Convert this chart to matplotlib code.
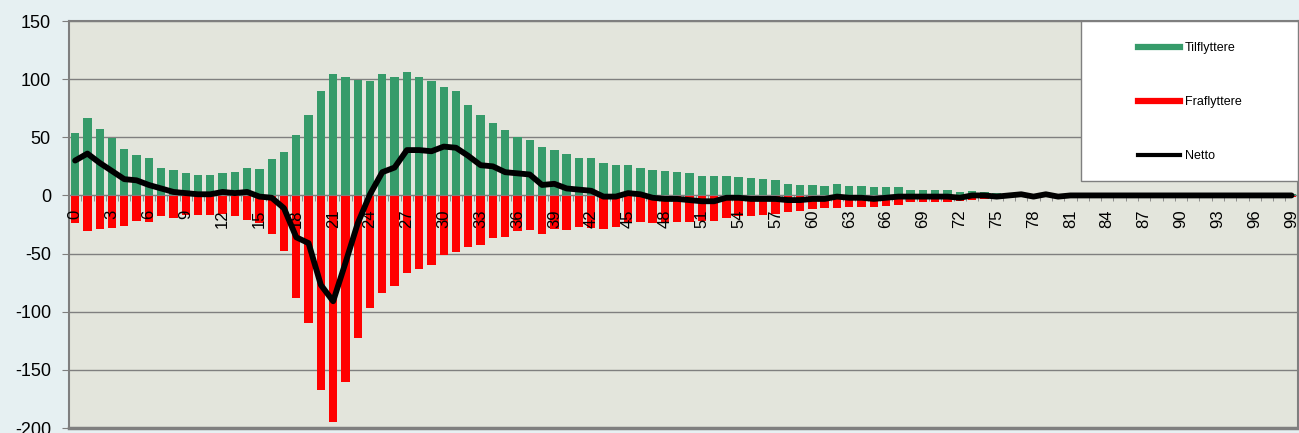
import matplotlib.pyplot as plt
import matplotlib.patches as mpatches
from matplotlib.lines import Line2D
import numpy as np

plt.rcParams['font.family'] = ['Liberation Sans', 'DejaVu Sans']
plt.rcParams['axes.unicode_minus'] = False

# alder 0-99
alder = list(range(100))

tilflyttere = [54, 67, 57, 49, 40, 35, 32, 24, 22, 19,
               18, 18, 19, 20, 24, 23, 31, 37, 52, 69,
               90, 104, 102, 99, 98, 104, 102, 106, 102, 98,
               93, 90, 78, 69, 62, 56, 50, 48, 42, 39,
               36, 32, 32, 28, 26, 26, 24, 22, 21, 20,
               19, 17, 17, 17, 16, 15, 14, 13, 10, 9,
               9, 8, 10, 8, 8, 7, 7, 7, 5, 5,
               5, 5, 3, 4, 3, 2, 2, 2, 1, 2,
               1, 1, 1, 1, 1, 1, 1, 1, 1, 1,
               1, 1, 1, 1, 1, 1, 1, 1, 1, 1]

fraflyttere = [-24, -31, -29, -28, -26, -22, -23, -18, -19, -17,
               -17, -17, -16, -18, -21, -24, -33, -48, -88, -110,
               -167, -195, -160, -123, -97, -84, -78, -67, -63, -60,
               -51, -49, -44, -43, -37, -36, -31, -30, -33, -29,
               -30, -27, -28, -29, -27, -24, -23, -24, -24, -23,
               -23, -22, -22, -19, -18, -18, -17, -16, -14, -13,
               -12, -11, -11, -10, -10, -10, -9, -8, -6, -6,
               -6, -6, -5, -4, -3, -3, -2, -1, -2, -1,
               -2, -1, -1, -1, -1, -1, -1, -1, -1, -1,
               -1, -1, -1, -1, -1, -1, -1, -1, -1, -1]

netto = [t + f for t, f in zip(tilflyttere, fraflyttere)]

y_ticks = [-200, -150, -100, -50, 0, 50, 100, 150]

green = '#369b6a'
red = '#ff0000'
grid_col = '#7f7f7f'

fig = plt.figure(figsize=(12.99, 4.33), dpi=100, facecolor='#e6f0f2')
ax = fig.add_axes([0.0531, 0.0115, 0.9459, 0.94])
ax.set_facecolor('#e3e5dc')
ax.set_axisbelow(False)

# gridlines drawn by hand so tick labels can sit above the bars
for v in y_ticks:
    ax.axhline(v, color=grid_col, lw=1, zorder=1)

x = np.array(alder)
ax.bar(x, tilflyttere, width=0.68, color=green, zorder=2)
ax.bar(x, fraflyttere, width=0.68, color=red, zorder=2)
ax.plot(x, netto, color='black', lw=4.2, zorder=4, solid_joinstyle='round', solid_capstyle='round')

ax.set_xlim(-0.5, 99.5)
ax.set_ylim(-200, 150)
ax.set_yticks(y_ticks)
ax.set_yticklabels([str(v) for v in y_ticks], fontsize=13)

# x axis at zero
ax.spines['bottom'].set_position(('data', 0))
ax.spines['bottom'].set_color(grid_col)
for s in ['left', 'top', 'right']:
    ax.spines[s].set_color(grid_col)
    ax.spines[s].set_linewidth(1.5)
ax.axhline(-200, color=grid_col, lw=2.5, clip_on=False, zorder=5)

ax.set_xticks(x[::3])
ax.set_xticklabels([str(v) for v in alder[::3]], rotation=90, fontsize=12)
ax.set_xticks(np.arange(-0.5, 100, 1), minor=True)
ax.tick_params(axis='x', which='major', length=0, pad=10)
ax.tick_params(axis='x', which='minor', length=4, color=grid_col, direction='out')
ax.tick_params(axis='y', length=5, color=grid_col, pad=8)

# legend box
box = mpatches.Rectangle((0.8234, 0.607), 0.1766, 0.393, transform=ax.transAxes,
                         facecolor='white', edgecolor=grid_col, lw=1, zorder=6)
ax.add_patch(box)
handles = [Line2D([], [], color=green, lw=4.5),
           Line2D([], [], color=red, lw=4.5),
           Line2D([], [], color='black', lw=3)]
leg = ax.legend(handles, ['Tilflyttere', 'Fraflyttere', 'Netto'],
                loc='upper left', bbox_to_anchor=(0.8605, 0.975), frameon=False,
                fontsize=9, handlelength=3.4, handletextpad=0.4, labelspacing=3.35)
leg.set_zorder(7)

fig.savefig('out.png', dpi=100, facecolor=fig.get_facecolor())
